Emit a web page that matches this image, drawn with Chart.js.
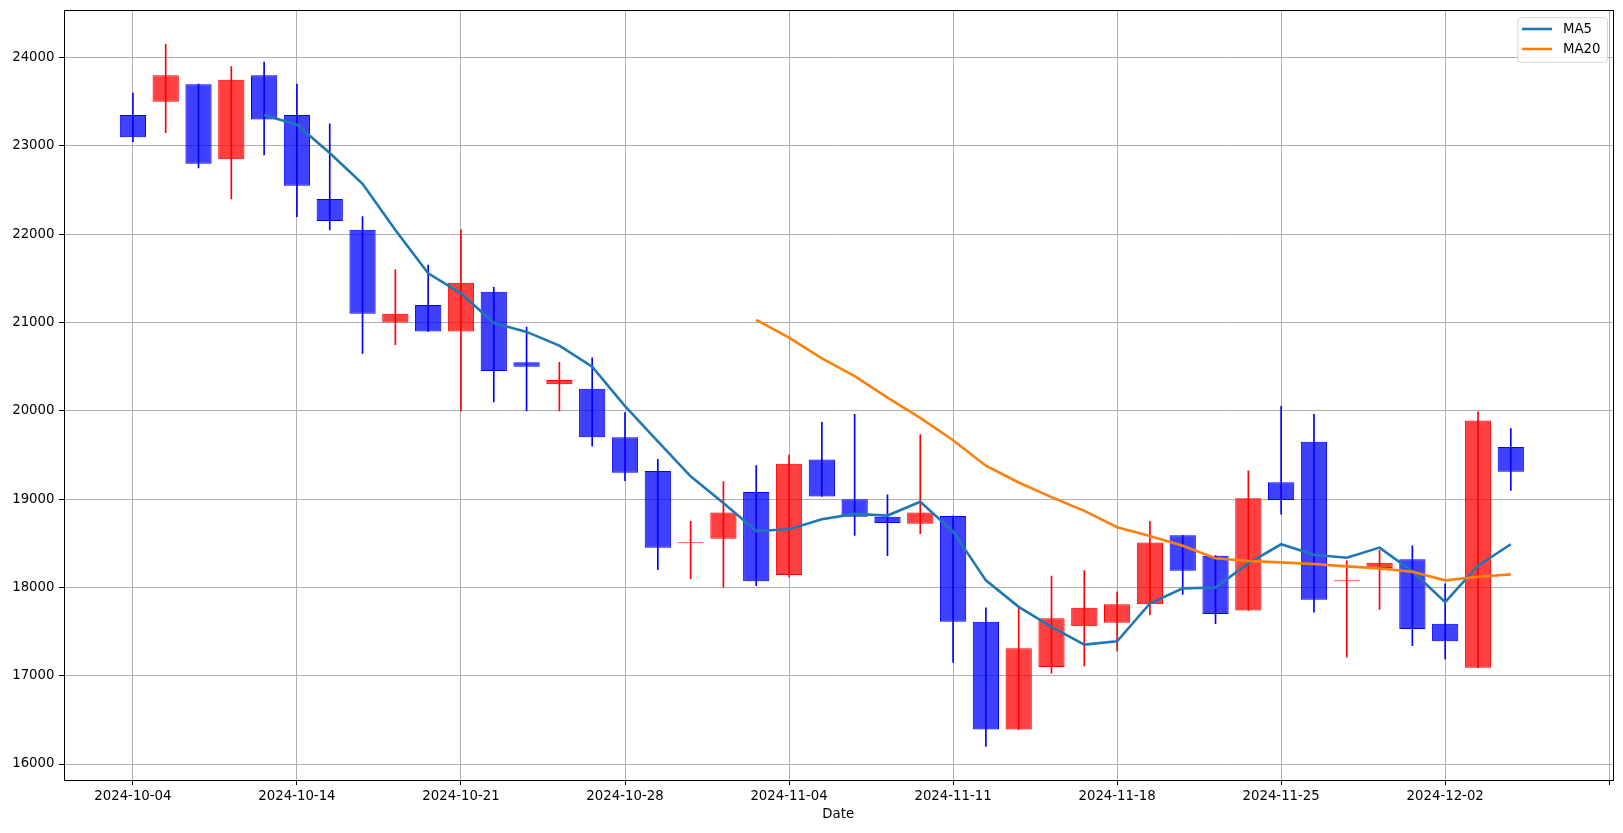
<!DOCTYPE html>
<html>
<head>
<meta charset="utf-8">
<script src="https://cdn.jsdelivr.net/npm/chart.js@4.4.1/dist/chart.umd.min.js"></script>
<style>
  html, body { margin: 0; padding: 0; background: #fff; }
  #wrap { width: 1623px; height: 833px; }
</style>
</head>
<body>
<div id="wrap"><canvas id="chart" width="1623" height="833"></canvas></div>
<script>
// trading days (KRX, holidays skipped)
const dates = [
  '2024-10-04', '2024-10-07', '2024-10-08', '2024-10-10', '2024-10-11',
  '2024-10-14', '2024-10-15', '2024-10-16', '2024-10-17', '2024-10-18',
  '2024-10-21', '2024-10-22', '2024-10-23', '2024-10-24', '2024-10-25',
  '2024-10-28', '2024-10-29', '2024-10-30', '2024-10-31', '2024-11-01',
  '2024-11-04', '2024-11-05', '2024-11-06', '2024-11-07', '2024-11-08',
  '2024-11-11', '2024-11-12', '2024-11-13', '2024-11-14', '2024-11-15',
  '2024-11-18', '2024-11-19', '2024-11-20', '2024-11-21', '2024-11-22',
  '2024-11-25', '2024-11-26', '2024-11-27', '2024-11-28', '2024-11-29',
  '2024-12-02', '2024-12-03', '2024-12-04'
];
const open  = [23350, 23500, 23700, 22850, 23800, 23350, 22400, 22050, 21000, 21200,
               20900, 21350, 20550, 20300, 20250, 19700, 19320, 18500, 18550, 19080,
               18140, 19450, 19000, 18800, 18720, 18810, 17610, 16390, 17100, 17560,
               17600, 17810, 18590, 18360, 17740, 19190, 19650, 18070, 18220, 18320,
               17590, 17090, 19590];
const high  = [23600, 24150, 23700, 23900, 23950, 23700, 23250, 22200, 21600, 21650,
               22050, 21400, 20950, 20550, 20600, 19980, 19450, 18750, 19200, 19380,
               19500, 19870, 19960, 19050, 19730, 18810, 17770, 17770, 18130, 18190,
               17950, 18750, 18590, 18360, 19320, 20050, 19960, 18300, 18420, 18470,
               18040, 19990, 19800];
const low   = [23050, 23150, 22750, 22400, 22900, 22200, 22050, 20650, 20750, 20900,
               20000, 20100, 20000, 20000, 19600, 19210, 18200, 18100, 18000, 18020,
               18120, 19030, 18590, 18360, 18610, 17150, 16200, 16390, 17030, 17110,
               17280, 17690, 17920, 17590, 17740, 18830, 17720, 17210, 17750, 17340,
               17190, 17090, 19100];
const close = [23100, 23800, 22800, 23750, 23300, 22550, 22150, 21100, 21100, 20900,
               21450, 20450, 20500, 20350, 19700, 19300, 18450, 18500, 18850, 18070,
               19400, 19030, 18800, 18730, 18850, 17610, 16390, 17310, 17650, 17770,
               17810, 18510, 18190, 17700, 19010, 18990, 17860, 18070, 18280, 17530,
               17390, 19890, 19310];

// moving averages (MA5 from day 4, MA20 from day 19)
const ma5Start = 4;
const ma5 = [23350, 23240, 22920, 22572, 22049, 21557, 21330, 20996, 20894, 20739,
             20500, 20053, 19655, 19258, 18955, 18640, 18659, 18773, 18833, 18814,
             18970, 18633, 18080, 17780, 17553, 17352, 17390, 17818, 17989, 18000,
             18273, 18489, 18371, 18337, 18451, 18182, 17833, 18246, 18489];
const ma20Start = 19;
const ma20 = [21030, 20830, 20595, 20394, 20150, 19920, 19667, 19379, 19189, 19023,
              18867, 18682, 18583, 18473, 18330, 18299, 18284, 18265, 18239, 18216,
              18178, 18080, 18121, 18148];

const xTicks = [0, 5, 10, 15, 20, 25, 30, 35, 40, 45];
const yTicks = [16000, 17000, 18000, 19000, 20000, 21000, 22000, 23000, 24000];

const FONT = 'DejaVu Sans';
const up = i => close[i] >= open[i];
const bodyFill = dates.map((d, i) => up(i) ? 'rgba(255,0,0,0.75)' : 'rgba(0,0,255,0.75)');
const lineCol = dates.map((d, i) => up(i) ? 'rgb(255,0,0)' : 'rgb(0,0,255)');

// frame on all four sides, like matplotlib spines
const frame = {
  id: 'frame',
  afterDatasetsDraw(chart) {
    const { ctx, chartArea: a } = chart;
    ctx.save();
    ctx.strokeStyle = '#000';
    ctx.lineWidth = 1;
    ctx.strokeRect(Math.round(a.left) + 0.5, Math.round(a.top) + 0.5,
                   Math.round(a.right - a.left), Math.round(a.bottom - a.top));
    ctx.restore();
  }
};

// legend box in the upper right corner of the plot
const legendBox = {
  id: 'legendBox',
  afterDraw(chart) {
    const { ctx, chartArea: a } = chart;
    const items = chart.data.datasets.filter(d => d.type === 'line');
    ctx.save();
    ctx.font = '13.3px "' + FONT + '"';
    const textW = Math.max(...items.map(d => ctx.measureText(d.label).width));
    const w = 4 + 30 + 11 + textW + 7;
    const h = 44.6;
    const x0 = a.right - 5 - w;
    const y0 = a.top + 7.7;
    ctx.beginPath();
    ctx.roundRect(x0, y0, w, h, 3);
    ctx.fillStyle = 'rgba(255,255,255,0.8)';
    ctx.fill();
    ctx.strokeStyle = '#d6d6d6';
    ctx.lineWidth = 1;
    ctx.stroke();
    items.forEach((d, k) => {
      const cy = y0 + 11.3 + k * 20;
      ctx.beginPath();
      ctx.moveTo(x0 + 4, cy);
      ctx.lineTo(x0 + 34, cy);
      ctx.strokeStyle = d.borderColor;
      ctx.lineWidth = 2.6;
      ctx.stroke();
      ctx.fillStyle = '#000';
      ctx.textBaseline = 'middle';
      ctx.textAlign = 'left';
      ctx.fillText(d.label, x0 + 45, cy + 1);
    });
    ctx.restore();
  }
};

Chart.defaults.color = '#000';
Chart.defaults.font.family = FONT;

new Chart(document.getElementById('chart'), {
  type: 'bar',
  data: {
    datasets: [
      {
        label: 'body',
        data: dates.map((d, i) => ({ x: i, y: [open[i], close[i]] })),
        backgroundColor: bodyFill,
        borderColor: lineCol,
        borderWidth: 1,
        borderSkipped: false,
        minBarLength: 1,
        grouped: false,
        barPercentage: 0.8,
        categoryPercentage: 1,
        order: 4
      },
      {
        label: 'wick',
        data: dates.map((d, i) => ({ x: i, y: [low[i], high[i]] })),
        backgroundColor: lineCol,
        borderWidth: 0,
        grouped: false,
        barThickness: 1,
        order: 3
      },
      {
        type: 'line',
        label: 'MA5',
        data: ma5.map((v, k) => ({ x: ma5Start + k, y: v })),
        borderColor: '#1f77b4',
        borderWidth: 2.6,
        pointRadius: 0,
        tension: 0,
        order: 2
      },
      {
        type: 'line',
        label: 'MA20',
        data: ma20.map((v, k) => ({ x: ma20Start + k, y: v })),
        borderColor: '#ff7f0e',
        borderWidth: 2.6,
        pointRadius: 0,
        tension: 0,
        order: 1
      }
    ]
  },
  options: {
    responsive: false,
    devicePixelRatio: 1,
    animation: false,
    layout: { padding: { top: 10, right: 10.5, bottom: 0, left: 0 } },
    plugins: {
      legend: { display: false },
      tooltip: { enabled: false }
    },
    scales: {
      x: {
        type: 'linear',
        min: -2.1,
        max: 45.1,
        offset: false,
        afterBuildTicks: axis => { axis.ticks = xTicks.map(v => ({ value: v })); },
        afterFit: axis => { axis.height = 53; axis.paddingLeft = 0; axis.paddingRight = 0; },
        ticks: {
          autoSkip: false,
          maxRotation: 0,
          padding: 4,
          font: { size: 13.3 },
          callback: v => dates[v] || ''
        },
        grid: { color: '#b0b0b0', lineWidth: 1, offset: false, tickLength: 5, tickColor: '#000' },
        border: { display: true, color: '#000' },
        title: { display: true, text: 'Date', font: { size: 13.3 }, padding: { top: 0, bottom: 10.4 } }
      },
      y: {
        type: 'linear',
        min: 15819,
        max: 24540,
        afterBuildTicks: axis => { axis.ticks = yTicks.map(v => ({ value: v })); },
        afterFit: axis => { axis.width = 64; axis.paddingTop = 0; axis.paddingBottom = 0; },
        ticks: {
          padding: 4.5,
          font: { size: 13.3 },
          callback: v => String(v)
        },
        grid: { color: '#b0b0b0', lineWidth: 1, tickLength: 5, tickColor: '#000' },
        border: { display: true, color: '#000' }
      }
    }
  },
  plugins: [frame, legendBox]
});
</script>
</body>
</html>
